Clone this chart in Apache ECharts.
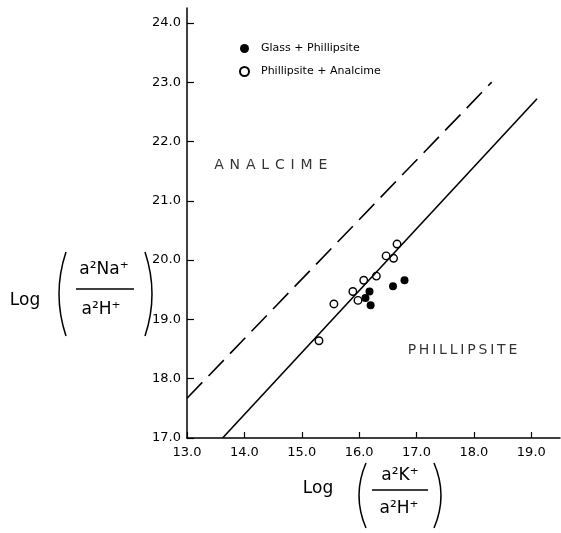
<!DOCTYPE html>
<html><head><meta charset="utf-8">
<script src="https://cdn.jsdelivr.net/npm/echarts@6/dist/echarts.min.js"></script>
<style>html,body{margin:0;padding:0;background:#fff}#c{width:561px;height:533px}</style>
</head><body><div id="c"></div>
<script>
// ---- data ----
const xTicks = [13, 14, 15, 16, 17, 18, 19];
const yTicks = [17, 18, 19, 20, 21, 22, 23, 24];
const glassPhillipsite = [[16.18,19.47],[16.11,19.36],[16.20,19.24],[16.59,19.56],[16.79,19.66]];
const phillipsiteAnalcime = [[16.66,20.27],[16.47,20.07],[16.60,20.03],[16.30,19.73],[16.08,19.66],[15.89,19.47],[15.98,19.32],[15.56,19.26],[15.30,18.64]];
const solidBoundary = [[13.62,17.0],[19.10,22.72]];
const dashedBoundary = [[13.0,17.67],[18.31,23.0]];
const fieldNames = ['ANALCIME', 'PHILLIPSITE'];
const fieldX = [14.46, 17.80];
const fieldY = [21.60, 18.48];

const FONT = 'DejaVu Sans';
const letterGaps = [' \u200A', '\u2009'];
const spaced = (s, sep) => s.split('').join(sep);
const chart = echarts.init(document.getElementById('c'), null, {renderer: 'canvas'});

function paren(x, top, bottom, dir) {
  return {type: 'bezierCurve', shape: {x1: x, y1: top, x2: x, y2: bottom, cpx1: x - dir * 14, cpy1: (top + bottom) / 2},
          style: {stroke: '#000', lineWidth: 1.5, fill: null}};
}
function txt(s, x, y, size) {
  return {type: 'text', x: x, y: y, style: {text: s, fill: '#000', font: size + 'px "' + FONT + '"', align: 'center', verticalAlign: 'middle'}};
}
function hline(x1, x2, y) {
  return {type: 'line', shape: {x1: x1, y1: y, x2: x2, y2: y}, style: {stroke: '#000', lineWidth: 1.5}};
}

const option = {
  animation: false,
  backgroundColor: '#fff',
  grid: {left: 187, top: 8, right: 1, bottom: 95},
  legend: {
    orient: 'vertical', left: 234, top: 38, itemWidth: 9, itemHeight: 9, itemGap: 12, icon: 'circle',
    data: ['Glass + Phillipsite', 'Phillipsite + Analcime'],
    textStyle: {fontSize: 11, fontFamily: FONT, color: '#000', padding: [0, 0, 0, 7]}
  },
  xAxis: {
    type: 'value', min: 13, max: 19.5, interval: 1,
    axisLine: {onZero: false, lineStyle: {color: '#000', width: 1.5}},
    axisTick: {inside: true, length: 6, customValues: xTicks, lineStyle: {color: '#000', width: 1.2}},
    axisLabel: {customValues: xTicks, formatter: v => v.toFixed(1), color: '#000', fontFamily: FONT, fontSize: 13, margin: 8},
    splitLine: {show: false}
  },
  yAxis: {
    type: 'value', min: 17, max: 24.25, interval: 1,
    axisLine: {onZero: false, lineStyle: {color: '#000', width: 1.5}},
    axisTick: {inside: true, length: 7, customValues: yTicks, lineStyle: {color: '#000', width: 1.2}},
    axisLabel: {customValues: yTicks, formatter: v => v.toFixed(1), color: '#000', fontFamily: FONT, fontSize: 13, margin: 6},
    splitLine: {show: false}
  },
  series: [
    {type: 'line', data: solidBoundary, symbol: 'none', silent: true, lineStyle: {color: '#000', width: 1.6}},
    {type: 'line', data: dashedBoundary, symbol: 'none', silent: true, lineStyle: {color: '#000', width: 1.6, type: [22, 9]}},
    {name: 'Glass + Phillipsite', type: 'scatter', data: glassPhillipsite, symbol: 'circle', symbolSize: 8,
     itemStyle: {color: '#000', borderColor: '#000', borderWidth: 0, opacity: 1}},
    {name: 'Phillipsite + Analcime', type: 'scatter', data: phillipsiteAnalcime, symbol: 'circle', symbolSize: 7.5,
     itemStyle: {color: '#fff', borderColor: '#000', borderWidth: 1.4, opacity: 1}},
    {type: 'scatter', symbolSize: 0, silent: true,
     data: fieldNames.map((n, i) => ({name: n, value: [fieldX[i], fieldY[i]]})),
     label: {show: true, position: 'inside', formatter: p => spaced(p.name, letterGaps[p.dataIndex]), color: '#000', fontFamily: FONT, fontSize: 14}}
  ],
  graphic: [
    // y-axis title: Log ( a²Na⁺ / a²H⁺ )
    txt('Log', 25, 301, 17),
    paren(66, 252, 336, 1),
    txt('a²Na⁺', 104, 270, 17),
    hline(76, 134, 289),
    txt('a²H⁺', 101, 310, 17),
    paren(145, 252, 336, -1),
    // x-axis title: Log ( a²K⁺ / a²H⁺ )
    txt('Log', 318, 489, 17),
    paren(366, 463, 528, 1),
    txt('a²K⁺', 400, 476, 17),
    hline(372, 428, 490),
    txt('a²H⁺', 399, 509, 17),
    paren(434, 463, 528, -1)
  ]
};
chart.setOption(option);
</script>
</body></html>
